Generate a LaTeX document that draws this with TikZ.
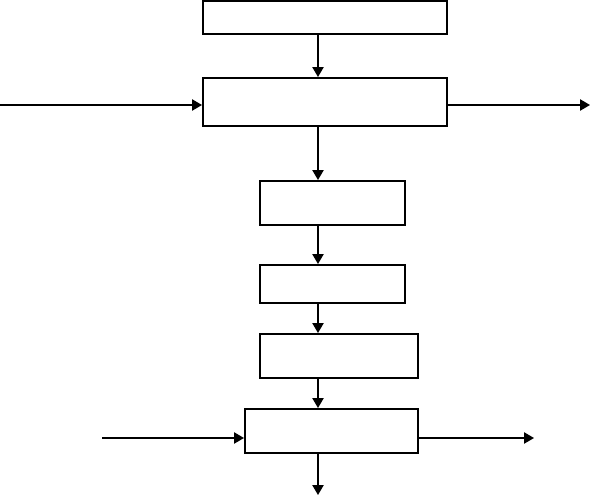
\documentclass[tikz,border=0pt]{standalone}
\usepackage{tikz}
\usetikzlibrary{arrows.meta}
\tikzstyle{box} = [rectangle, draw=black, line width=1.5pt, inner sep=0pt]
\tikzstyle{arrow} = [line width=1pt, -{Triangle[length=7.5pt,width=8.5pt]}]

\begin{document}
\begin{tikzpicture}[x=0.75pt, y=-0.75pt]

    \useasboundingbox (0,0) rectangle (592,496);

    \node (top) [box, minimum width=183pt, minimum height=24.75pt] at (325,17.5) {};
    \node (mix) [box, minimum width=183pt, minimum height=36pt] at (325,102) {};
    \node (stepa) [box, minimum width=108.75pt, minimum height=33pt] at (332.5,203) {};
    \node (stepb) [box, minimum width=108.75pt, minimum height=28.5pt] at (332.5,284) {};
    \node (stepc) [box, minimum width=118.5pt, minimum height=33pt] at (339,356) {};
    \node (last) [box, minimum width=129.75pt, minimum height=33pt] at (331.5,431) {};

    \coordinate (axis) at (318,0);
    \coordinate (inA) at (0,105);
    \coordinate (outA) at (590,105);
    \coordinate (inB) at (102,438);
    \coordinate (outB) at (534,438);
    \coordinate (outC) at (318,495);

    \draw [arrow] (top.south -| axis) -- (mix.north -| axis);
    \draw [arrow] (mix.south -| axis) -- (stepa.north -| axis);
    \draw [arrow] (stepa.south -| axis) -- (stepb.north -| axis);
    \draw [arrow] (stepb.south -| axis) -- (stepc.north -| axis);
    \draw [arrow] (stepc.south -| axis) -- (last.north -| axis);
    \draw [arrow] (inA) -- (inA -| mix.west);
    \draw [arrow] (mix.east |- outA) -- (outA);
    \draw [arrow] (inB) -- (inB -| last.west);
    \draw [arrow] (last.east |- outB) -- (outB);
    \draw [arrow] (last.south -| axis) -- (outC);

\end{tikzpicture}
\end{document}
